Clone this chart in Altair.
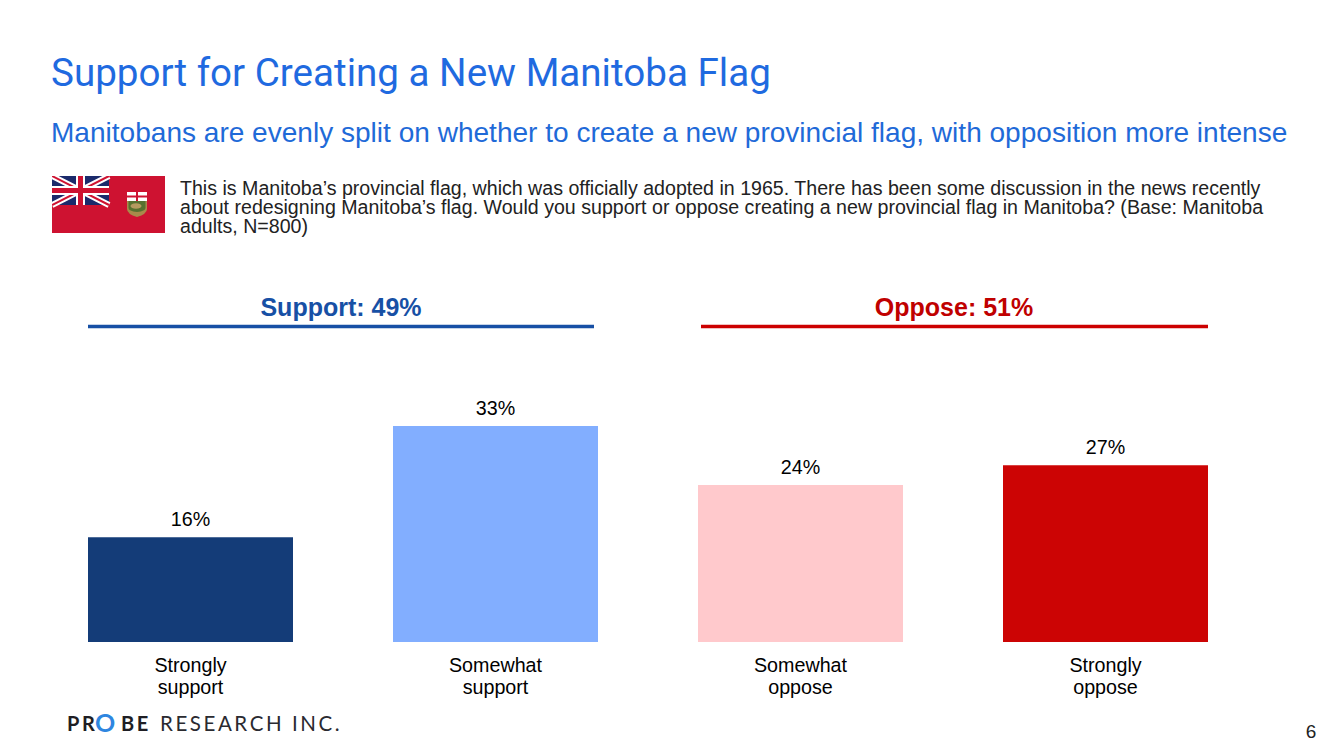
import base64
import altair as alt
import pandas as pd

categories = ["Strongly support", "Somewhat support", "Somewhat oppose", "Strongly oppose"]
values = [16, 33, 24, 27]
labels = ["16%", "33%", "24%", "27%"]
colors = ["#143C78", "#82AEFF", "#FFC9CC", "#CC0404"]

title = "Support for Creating a New Manitoba Flag"
subtitle = "Manitobans are evenly split on whether to create a new provincial flag, with opposition more intense"
question = [
    "This is Manitoba\u2019s provincial flag, which was officially adopted in 1965. There has been some discussion in the news recently",
    "about redesigning Manitoba\u2019s flag. Would you support or oppose creating a new provincial flag in Manitoba? (Base: Manitoba",
    "adults, N=800)",
]
HS = "\u200a"
LEFT, TOP = 88, 426


def px(x):
    return x - LEFT


def py(y):
    return y - TOP


def txt(s, x, y, size, color, font="Liberation Sans", weight="normal", align="left"):
    return alt.Chart(alt.Data(values=[{"t": s}])).mark_text(
        font=font, fontSize=size, fontWeight=weight, align=align, baseline="alphabetic",
        color=color, clip=False,
    ).encode(x=alt.value(px(x)), y=alt.value(py(y)), text="t:N")


def rule(x1, x2, y, color):
    return alt.Chart(alt.Data(values=[{}])).mark_rule(color=color, strokeWidth=3.5, clip=False).encode(
        x=alt.value(px(x1)), x2=alt.value(px(x2)), y=alt.value(py(y))
    )


flag_svg = """<svg xmlns="http://www.w3.org/2000/svg" width="113" height="57" viewBox="0 0 113 57">
<rect width="113" height="57" fill="#CE1231"/>
<rect width="57" height="29" fill="#1B2A6B"/>
<path d="M0 0L57 29M57 0L0 29" stroke="#fff" stroke-width="6"/>
<path d="M0 0L57 29M57 0L0 29" stroke="#CE1231" stroke-width="2"/>
<path d="M28.500 0V29M0 14.500H57" stroke="#fff" stroke-width="9"/>
<path d="M28.500 0V29M0 14.500H57" stroke="#CE1231" stroke-width="5"/>
<rect x="75" y="16" width="20" height="9" fill="#fff"/>
<path d="M85 16V25M75 20.500H95" stroke="#CE1231" stroke-width="2"/>
<path d="M75 25H95V33Q95 38 85 41Q75 38 75 33Z" fill="#A88A4A"/>
<path d="M76.500 25H93.500V32Q93.500 35 85 36Q76.500 35 76.500 32Z" fill="#56702F"/>
<ellipse cx="84" cy="30" rx="5.500" ry="2.800" fill="#B59A60"/>
</svg>"""
flag_url = "data:image/svg+xml;base64," + base64.b64encode(flag_svg.encode()).decode()

df = pd.DataFrame({"cat": categories, "value": values, "label": labels, "color": colors})

xenc = alt.X(
    "cat:N", sort=categories, title=None,
    scale=alt.Scale(paddingInner=100 / 305, paddingOuter=0),
    axis=alt.Axis(
        domain=False, ticks=False, labelAngle=0, labelFontSize=19.700, labelFont="Liberation Sans",
        labelColor="#000000", labelPadding=13, labelLineHeight=22, labelBaseline="top",
        labelExpr="split(datum.label, ' ')", grid=False,
    ),
)
yenc = alt.Y("value:Q", axis=None, scale=alt.Scale(domain=[0, 33], nice=False))

bars = alt.Chart(df).mark_bar().encode(x=xenc, y=yenc, color=alt.Color("color:N", scale=None, legend=None))
bar_text = alt.Chart(df).mark_text(
    font="Liberation Sans", fontSize=19.700, color="#000000", baseline="alphabetic", dy=-11
).encode(x=alt.X("cat:N", sort=categories), y=alt.Y("value:Q"), text="label:N")

flag = alt.Chart(alt.Data(values=[{"u": flag_url}])).mark_image(
    width=113, height=57, align="left", baseline="top", clip=False
).encode(x=alt.value(px(52)), y=alt.value(py(176)), url="u:N")

layers = [
    bars,
    bar_text,
    flag,
    txt(title, 51, 86, 38.600, "#1F6AE0", font="Roboto"),
    txt(subtitle, 51, 142, 28.050, "#1F6AD8"),
    txt(question[0], 180, 195, 19.600, "#222222"),
    txt(question[1], 180, 214, 19.600, "#222222"),
    txt(question[2], 180, 233, 19.600, "#222222"),
    txt("Support: 49%", 341, 316, 25, "#1750A5", weight="bold", align="center"),
    txt("Oppose: 51%", 954, 316, 25, "#C00000", weight="bold", align="center"),
    rule(88, 594, 326.500, "#1750A5"),
    rule(701, 1208, 326.500, "#CC0000"),
    txt(f"P{HS}{HS}R", 67, 731, 20, "#1E1E24", font="Lato", weight="bold"),
    txt("O", 95, 732, 25, "#2E86E0", font="Lato", weight="bold"),
    txt(f"B{HS}{HS}E", 121, 731, 20, "#1E1E24", font="Lato", weight="bold"),
    txt((HS + HS).join("RESEARCH INC."), 160, 731, 20.500, "#2A2A30", font="Lato"),
    txt("6", 1311, 738, 19, "#222222", align="center"),
]

chart = alt.layer(*layers).resolve_scale(color="independent").properties(
    width=1120, height=216,
    autosize=alt.AutoSizeParams(type="none"),
    padding={"left": 80, "top": 418, "right": 118, "bottom": 99},
).configure_view(stroke=None)

chart.save("out.html", embed_options={"renderer": "svg", "actions": False})
